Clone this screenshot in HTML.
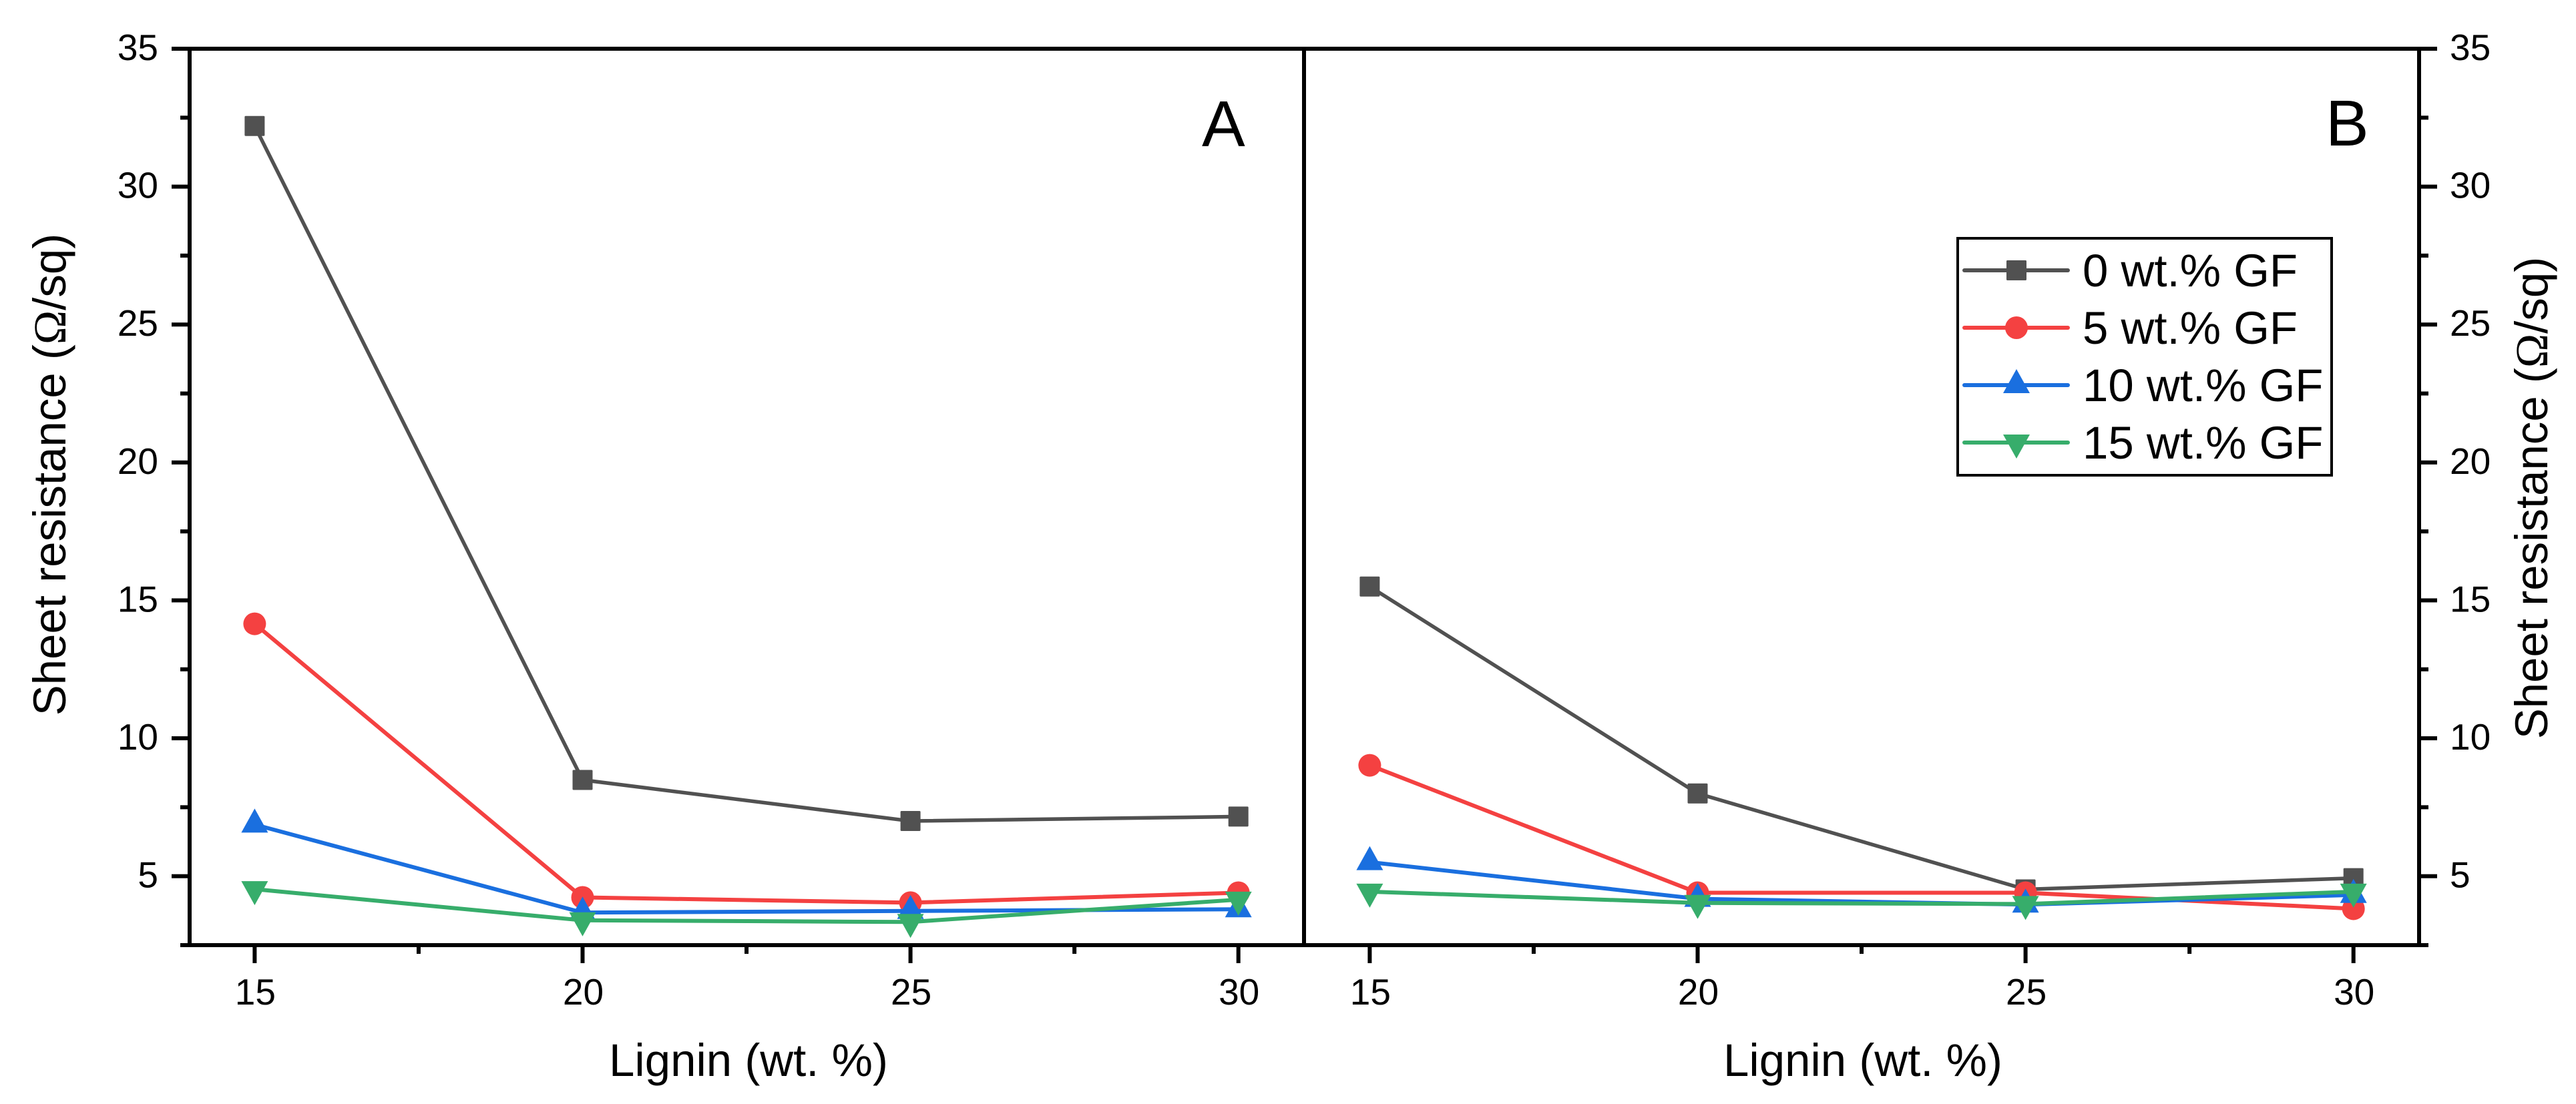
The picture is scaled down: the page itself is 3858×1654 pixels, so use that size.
<!DOCTYPE html>
<html lang="en">
<head>
<meta charset="utf-8">
<title>Sheet resistance vs lignin content</title>
<style>
html,body{margin:0;padding:0;background:#fff;width:3858px;height:1654px;overflow:hidden}
svg{display:block;font-family:"Liberation Sans",Arial,sans-serif;fill:#000}
</style>
</head>
<body>
<svg id="chart" xmlns="http://www.w3.org/2000/svg" width="3858" height="1654" viewBox="0 0 3858 1654">
  <rect x="0" y="0" width="3858" height="1654" fill="#fff"/>
  <g id="frame" fill="#000">
    <rect x="257" y="70" width="3393" height="6"/>
    <rect x="270" y="1413" width="3367" height="6"/>
    <rect x="281" y="70" width="6" height="1349"/>
    <rect x="1950" y="70" width="6" height="1349"/>
    <rect x="3620" y="70" width="6" height="1349"/>
  </g>
  <g id="ticks"></g>
  <g id="series"></g>
  <text x="1800" y="219" font-size="97">A</text>
  <text x="3483" y="218" font-size="97">B</text>
  <text x="1121" y="1612" font-size="69" text-anchor="middle">Lignin (wt. %)</text>
  <text x="2790" y="1612" font-size="69" text-anchor="middle">Lignin (wt. %)</text>
  <text transform="translate(98 711) rotate(-90)" font-size="69" text-anchor="middle">Sheet resistance (<tspan font-family="'Liberation Serif',serif">Ω</tspan>/sq)</text>
  <text transform="translate(3815 746) rotate(-90)" font-size="69" text-anchor="middle">Sheet resistance (<tspan font-family="'Liberation Serif',serif">Ω</tspan>/sq)</text>
  <g id="legend">
    <rect x="2932" y="357" width="560" height="355" fill="#fff" stroke="#000" stroke-width="4"/>
  </g>
</svg>
<script>
const lignin = [15, 20, 25, 30];
const xMajorTicks = [15, 20, 25, 30];
const xMinorTicks = [17.5, 22.5, 27.5];
const yMajorTicks = [5, 10, 15, 20, 25, 30, 35];
const yMinorTicks = [2.5, 7.5, 12.5, 17.5, 22.5, 27.5, 32.5];

const seriesLabels = ['0 wt.% GF', '5 wt.% GF', '10 wt.% GF', '15 wt.% GF'];
const seriesColors = ['#515151', '#F44141', '#1A6FDF', '#37AD6B'];
const seriesMarkers = ['square', 'circle', 'triangle-up', 'triangle-down'];

const panelA0 = [32.2, 8.49, 7.0, 7.16];
const panelA5 = [14.15, 4.23, 4.04, 4.4];
const panelA10 = [6.87, 3.68, 3.74, 3.8];
const panelA15 = [4.53, 3.4, 3.34, 4.15];

const panelB0 = [15.5, 8.0, 4.52, 4.93];
const panelB5 = [9.02, 4.4, 4.4, 3.82];
const panelB10 = [5.51, 4.18, 3.97, 4.32];
const panelB15 = [4.44, 4.03, 3.99, 4.44];

const panelAValues = [panelA0, panelA5, panelA10, panelA15];
const panelBValues = [panelB0, panelB5, panelB10, panelB15];

const NS = 'http://www.w3.org/2000/svg';
function yPos(v) { return 73 + (35 - v) * (1343 / 32.5); }
function xPosA(v) { return 381.4 + (v - 15) * 98.22; }
function xPosB(v) { return 2051.4 + (v - 15) * 98.22; }

function make(tag, parent, props) {
  const el = document.createElementNS(NS, tag);
  for (const k in props) el.setAttribute(k, props[k]);
  parent.appendChild(el);
  return el;
}

function drawMarker(parent, kind, cx, cy, color, name) {
  let el;
  if (kind === 'square') {
    el = make('rect', parent, { x: cx - 15, y: cy - 15, width: 30, height: 30, rx: 1.5, fill: color });
  } else if (kind === 'circle') {
    el = make('circle', parent, { cx: cx, cy: cy, r: 17, fill: color });
  } else if (kind === 'triangle-up') {
    el = make('polygon', parent, { points: [cx, cy - 24, cx + 20, cy + 12, cx - 20, cy + 12].join(','), fill: color });
  } else {
    el = make('polygon', parent, { points: [cx, cy + 24, cx + 20, cy - 12, cx - 20, cy - 12].join(','), fill: color });
  }
  
  
}

const tickGroup = document.getElementById('ticks');
const seriesGroup = document.getElementById('series');
const legendGroup = document.getElementById('legend');

/* y ticks */
yMajorTicks.forEach(function (v) {
  const y = yPos(v);
  const left = make('rect', tickGroup, { x: 257, y: y - 3, width: 27, height: 6 });
  
  
  const right = make('rect', tickGroup, { x: 3623, y: y - 3, width: 27, height: 6 });
  
  
  const ll = make('text', tickGroup, { x: 237, y: y + 17, 'font-size': 55, 'text-anchor': 'end' });
  ll.textContent = v;
  
  
  const rl = make('text', tickGroup, { x: 3669, y: y + 17, 'font-size': 55 });
  rl.textContent = v;
  
  
});
yMinorTicks.forEach(function (v) {
  const y = yPos(v);
  const left = make('rect', tickGroup, { x: 270, y: y - 3, width: 14, height: 6 });
  
  
  const right = make('rect', tickGroup, { x: 3623, y: y - 3, width: 14, height: 6 });
  
  
});

/* x ticks and both panels */
[xPosA, xPosB].forEach(function (xPos, p) {
  const panel = p === 0 ? 'a' : 'b';
  xMajorTicks.forEach(function (v) {
    const x = xPos(v);
    const t = make('rect', tickGroup, { x: x - 3, y: 1416, width: 6, height: 27 });
    
    
    const l = make('text', tickGroup, { x: x + 1, y: 1505, 'font-size': 55, 'text-anchor': 'middle' });
    l.textContent = v;
    
    
  });
  xMinorTicks.forEach(function (v) {
    const t = make('rect', tickGroup, { x: xPos(v) - 3, y: 1416, width: 6, height: 13 });
    
    
  });

  const values = p === 0 ? panelAValues : panelBValues;
  values.forEach(function (vals, s) {
    const g = make('g', seriesGroup, {});
    
    
    const pts = vals.map(function (v, i) { return xPos(lignin[i]) + ',' + yPos(v); }).join(' ');
    const line = make('polyline', g, { points: pts, fill: 'none', stroke: seriesColors[s], 'stroke-width': s === 0 ? 5.5 : 6, 'stroke-linejoin': 'round' });
    
    
    vals.forEach(function (v, i) {
      drawMarker(g, seriesMarkers[s], xPos(lignin[i]), yPos(v), seriesColors[s], 'data-point');
    });
  });
});

/* legend */
seriesLabels.forEach(function (label, s) {
  const y = 405 + s * 86;
  const g = make('g', legendGroup, {});
  
  
  const ln = make('line', g, { x1: 2942, x2: 3097, y1: y, y2: y, stroke: seriesColors[s], 'stroke-width': 6, 'stroke-linecap': 'round' });
  
  
  drawMarker(g, seriesMarkers[s], 3020, y, seriesColors[s], 'legend-marker');
  const t = make('text', g, { x: 3119, y: y + 24, 'font-size': 69 });
  t.textContent = label;
  
  
});
</script>
</body>
</html>
